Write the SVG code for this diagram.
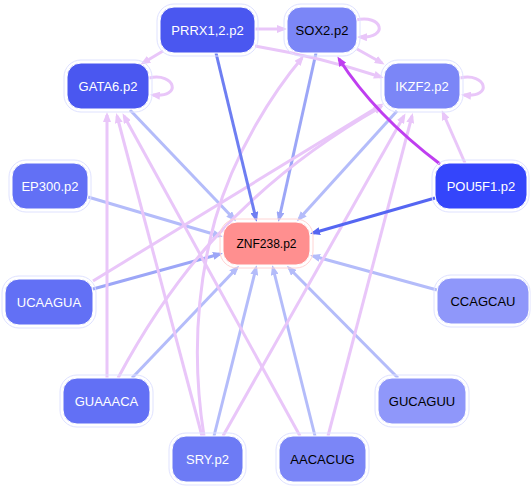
<svg xmlns="http://www.w3.org/2000/svg" width="531" height="489" viewBox="0 0 531 489">
<style>
.n rect.b{stroke:#ffffff;stroke-width:1}
.n rect.o{fill:none;stroke:#dfe2ff;stroke-width:1}
.n text{font-family:"Liberation Sans",Arial,sans-serif;font-size:13px;text-anchor:middle}
.w{fill:#ffffff}.k{fill:#000000}
#edges path{fill:none;stroke-width:3}
.pk{stroke:#e9c6f9;marker-end:url(#apk)}
.lb{stroke:#b4bcfa;marker-end:url(#alb)}
.mb{stroke:#9ca6f7;marker-end:url(#amb)}
.db{stroke:#6e7ef2;marker-end:url(#adb)}
.xb{stroke:#5566f2;marker-end:url(#axb)}
.pu{stroke:#bf3ef0;marker-end:url(#apu)}
</style>
<defs>
<marker id="apk" viewBox="0 0 10 8" refX="7" refY="4" markerWidth="10" markerHeight="8" markerUnits="userSpaceOnUse" orient="auto"><path d="M0,0L10,4L0,8z" fill="#e9c6f9"/></marker>
<marker id="alb" viewBox="0 0 10 8" refX="7" refY="4" markerWidth="10" markerHeight="8" markerUnits="userSpaceOnUse" orient="auto"><path d="M0,0L10,4L0,8z" fill="#b4bcfa"/></marker>
<marker id="amb" viewBox="0 0 10 8" refX="7" refY="4" markerWidth="10" markerHeight="8" markerUnits="userSpaceOnUse" orient="auto"><path d="M0,0L10,4L0,8z" fill="#9ca6f7"/></marker>
<marker id="adb" viewBox="0 0 10 8" refX="7" refY="4" markerWidth="10" markerHeight="8" markerUnits="userSpaceOnUse" orient="auto"><path d="M0,0L10,4L0,8z" fill="#6e7ef2"/></marker>
<marker id="axb" viewBox="0 0 10 8" refX="7" refY="4" markerWidth="10" markerHeight="8" markerUnits="userSpaceOnUse" orient="auto"><path d="M0,0L10,4L0,8z" fill="#5566f2"/></marker>
<marker id="apu" viewBox="0 0 10 8" refX="7" refY="4" markerWidth="10" markerHeight="8" markerUnits="userSpaceOnUse" orient="auto"><path d="M0,0L10,4L0,8z" fill="#bf3ef0"/></marker>
</defs>
<rect width="531" height="489" fill="#ffffff"/>
<g id="edges">
<path class="lb" d="M130,110L234,219"/>
<path class="lb" d="M397,111L299,219"/>
<path class="lb" d="M88,197L220,236"/>
<path class="lb" d="M437,290L313,256"/>
<path class="lb" d="M132,378L237,268"/>
<path class="lb" d="M214,436L256,268"/>
<path class="lb" d="M315,436L273,268"/>
<path class="lb" d="M398,378L289,268"/>
<path class="mb" d="M316,53L279,219"/>
<path class="mb" d="M93,289L220,254"/>
<path class="pk" d="M255,29L284,29"/>
<path class="pk" d="M163,51L143,63"/>
<path class="pk" d="M255,46Q320,57 381,77"/>
<path class="pk" d="M357,49L382,63"/>
<path class="pk" d="M356,20C382,14 390,38 360,37"/>
<path class="pk" d="M460,78C486,72 494,98 464,95"/>
<path class="pk" d="M149,78C175,72 183,98 153,95"/>
<path class="pk" d="M465,163L443,113"/>
<path class="pk" d="M93,281L381,105"/>
<path class="pk" d="M118,378C165,290 235,190 381,107"/>
<path class="pk" d="M107,378L107,115"/>
<path class="pk" d="M202,436L117,116"/>
<path class="pk" d="M300,436L124,116"/>
<path class="pk" d="M223,436L404,116"/>
<path class="pk" d="M328,436L412,116"/>
<path class="pk" d="M204,436C192,360 196,290 215,220C235,150 275,90 302,58"/>
<path class="db" d="M216,53L256,219"/>
<path class="xb" d="M435,198L313,233"/>
<path class="pu" d="M440,164Q375,115 339,59"/>
</g>
<g id="PRRX1" class="n"><rect class="o" x="157" y="4" width="101" height="52" rx="17"/><rect class="b" x="160" y="7" width="95" height="46" rx="14" fill="#4a57f0"/><text class="w" x="207.5" y="34.5">PRRX1,2.p2</text></g>
<g id="SOX2" class="n"><rect class="o" x="284" y="4" width="76" height="52" rx="17"/><rect class="b" x="287" y="7" width="70" height="46" rx="14" fill="#7b86f7"/><text class="k" x="322" y="34.5">SOX2.p2</text></g>
<g id="GATA6" class="n"><rect class="o" x="64" y="60" width="88" height="52" rx="17"/><rect class="b" x="67" y="63" width="82" height="46" rx="14" fill="#4a57f0"/><text class="w" x="108" y="90.5">GATA6.p2</text></g>
<g id="IKZF2" class="n"><rect class="o" x="381" y="60" width="82" height="52" rx="17"/><rect class="b" x="384" y="63" width="76" height="46" rx="14" fill="#7b86f7"/><text class="w" x="422" y="90.5">IKZF2.p2</text></g>
<g id="EP300" class="n"><rect class="o" x="9" y="160" width="82" height="52" rx="17"/><rect class="b" x="12" y="163" width="76" height="46" rx="14" fill="#6270f5"/><text class="w" x="50" y="190.5">EP300.p2</text></g>
<g id="POU5F1" class="n"><rect class="o" x="432" y="160" width="97" height="52" rx="17"/><rect class="b" x="435" y="163" width="92" height="46" rx="14" fill="#3445fb"/><text class="w" x="481" y="190.5">POU5F1.p2</text></g>
<g id="ZNF238" class="n"><rect class="o" x="220" y="219" width="93" height="49" rx="17" style="stroke:#ffd4d4"/><rect class="b" x="223" y="222" width="87" height="43" rx="14" fill="#ff8f8f"/><text class="k" x="266.5" y="248" style="font-size:12px">ZNF238.p2</text></g>
<g id="UCAAGUA" class="n"><rect class="o" x="2" y="276" width="94" height="52" rx="17"/><rect class="b" x="5" y="279" width="88" height="46" rx="14" fill="#6270f5"/><text class="w" x="49" y="306.5">UCAAGUA</text></g>
<g id="CCAGCAU" class="n"><rect class="o" x="434" y="275" width="96" height="52" rx="17"/><rect class="b" x="437" y="278" width="92" height="46" rx="14" fill="#8f97fa"/><text class="k" x="483" y="305.5">CCAGCAU</text></g>
<g id="GUAAACA" class="n"><rect class="o" x="60" y="375" width="93" height="52" rx="17"/><rect class="b" x="63" y="378" width="87" height="46" rx="14" fill="#6270f5"/><text class="w" x="106.5" y="405.5">GUAAACA</text></g>
<g id="GUCAGUU" class="n"><rect class="o" x="375" y="375" width="94" height="52" rx="17"/><rect class="b" x="378" y="378" width="88" height="46" rx="14" fill="#8f97fa"/><text class="k" x="422" y="405.5">GUCAGUU</text></g>
<g id="SRY" class="n"><rect class="o" x="169" y="433" width="77" height="52" rx="17"/><rect class="b" x="172" y="436" width="71" height="46" rx="14" fill="#6d7bf5"/><text class="w" x="207.5" y="463.5">SRY.p2</text></g>
<g id="AACACUG" class="n"><rect class="o" x="276" y="433" width="93" height="52" rx="17"/><rect class="b" x="279" y="436" width="87" height="46" rx="14" fill="#7b86f7"/><text class="k" x="322.5" y="463.5">AACACUG</text></g>
</svg>
